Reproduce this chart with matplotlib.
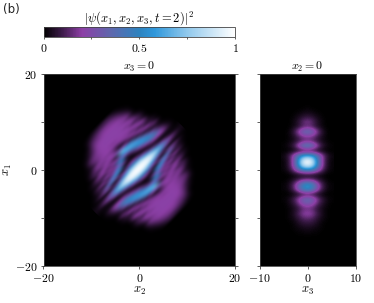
import numpy as np
import matplotlib
matplotlib.use('Agg')
import matplotlib.pyplot as plt
from matplotlib.colors import LinearSegmentedColormap
from matplotlib.ticker import FixedLocator
from matplotlib.transforms import Affine2D

plt.rcParams['mathtext.fontset'] = 'cm'
plt.rcParams['font.size'] = 8.5

# density, in percent, on a grid turned with the fringes:
# rows a = (x2+x1)/sqrt2 = 12 .. 1.5 step 1.5, columns b = (x2-x1)/sqrt2 = -12 .. 12 step .5
upper_rows = [
    [0]*22 + [1,2,3,2,1] + [0]*22,
    [0]*17 + [1,2,5,7,4,2,3,10,6,2,4,2,1] + [0]*19,
    [0]*12 + [2,6,7,15,8,6,14,22,20,7,2,8,22,12,2,15,8,9,10,4,5,3,1] + [0]*14,
    [0]*6 + [1,4,10,12,10,20,15,7,20,10,4,25,40,38,20,6,3,22,40,25,4,28,28,5,19,7,12,16,6,12,9,4,2,1] + [0]*9,
    [0] + [1,3,7,12,17,13,18,20,10,20,18,8,20,15,5,30,50,52,38,18,5,12,48,65,48,12,5,45,25,8,22,8,20,20,10,18,17,10,13,13,8,3,1] + [0]*5,
    [3,7,12,16,19,19,19,20,17,20,19,14,20,15,5,35,55,58,42,20,5,5,32,68,85,68,32,6,30,55,20,14,20,12,19,20,16,19,18,17,17,16,12,8,4,1] + [0]*3,
    [8,12,16,18,20,21,21,21,21,21,19,20,16,5,40,60,60,45,22,6,2,22,60,88,95,88,58,20,2,45,55,20,13,20,16,19,20,18,20,20,20,20,20,19,17,14,9,4,1],
    [8,12,17,19,20,21,21,21,21,20,20,16,6,20,55,65,42,15,4,1,14,42,78,94,98,94,75,42,12,1,18,55,50,15,5,18,20,18,20,20,21,21,21,20,18,16,13,9,4],
]
middle_row = [6,11,16,19,20,21,21,21,20,18,18,10,5,35,72,60,25,4,1,6,22,48,78,95,100,95,78,48,22,6,1,4,25,60,72,35,5,10,18,18,20,21,21,21,20,19,16,11,6]
# rows x1 = 14 .. -14, columns x3 = -5 .. 5
x3_x1 = [
    [0,0,0,0,0,0,0,0,0,0,0],
    [0,0,0,0,0,1,0,0,0,0,0],
    [0,0,0,1,2,3,2,1,0,0,0],
    [0,0,1,3,6,8,6,3,1,0,0],
    [0,0,2,6,14,18,14,6,2,0,0],
    [0,0,2,5,11,13,11,5,2,0,0],
    [0,1,7,20,34,40,34,20,7,1,0],
    [0,1,4,11,18,20,18,11,4,1,0],
    [0,1,3,7,12,14,12,7,3,1,0],
    [1,3,9,24,42,50,42,24,9,3,1],
    [0,0,1,2,3,3,3,2,1,0,0],
    [2,8,22,40,55,60,55,40,22,8,2],
    [1,6,22,50,88,100,88,50,22,6,1],
    [1,6,22,50,85,95,85,50,22,6,1],
    [1,4,15,30,42,48,42,30,15,4,1],
    [0,0,1,2,3,3,3,2,1,0,0],
    [0,1,4,9,14,15,14,9,4,1,0],
    [1,3,12,28,48,58,48,28,12,3,1],
    [1,3,11,27,46,55,46,27,11,3,1],
    [0,0,1,3,5,6,5,3,1,0,0],
    [1,3,9,20,33,38,33,20,9,3,1],
    [0,2,6,14,24,28,24,14,6,2,0],
    [0,1,3,7,13,15,13,7,3,1,0],
    [0,1,4,11,19,22,19,11,4,1,0],
    [0,1,3,7,12,14,12,7,3,1,0],
    [0,0,1,4,7,8,7,4,1,0,0],
    [0,0,1,2,3,4,3,2,1,0,0],
    [0,0,0,1,1,2,1,1,0,0,0],
    [0,0,0,0,0,0,0,0,0,0,0],
]
cmap_pos = [0, .1, .2, .35, .5, .58, .75, 1]
cmap_col = ['#000000', '#3f1c4c', '#8d3fa6', '#5f67ad', '#2d83bf', '#2f97db', '#90c8ec', '#ffffff']

# the lower half of the left panel is the upper half turned by 180 degrees
along_across = upper_rows + [middle_row] + [r[::-1] for r in upper_rows[::-1]]
along_across = np.pad(np.array(along_across), ((0, 0), (1, 1)))

cm = LinearSegmentedColormap.from_list('psi', list(zip(cmap_pos, cmap_col)))
W, H = 374., 303.
grey = '#444444'

def box(x0, x1, y0, y1):
    return [x0/W, 1 - y1/H, (x1 - x0)/W, (y1 - y0)/H]

fig = plt.figure(figsize=(3.74, 3.03), dpi=100)
ax1 = fig.add_axes(box(43.5, 235, 74, 266))
ax2 = fig.add_axes(box(259.7, 355.7, 74, 266))
cax = fig.add_axes(box(43.5, 235, 27.3, 37.3))

im = ax1.imshow(along_across/100., cmap=cm, vmin=0, vmax=1, interpolation='bicubic',
                extent=[-13., 12.5, -12.75, 12.75], aspect='auto')
im.set_transform(Affine2D().rotate_deg(-45) + ax1.transData)
ax2.imshow(np.array(x3_x1)/100., cmap=cm, vmin=0, vmax=1, interpolation='bicubic',
           extent=[-5.5, 5.5, -14.5, 14.5], aspect='auto')

ax1.set_xlim(-20, 20)
ax1.set_ylim(-20, 20)
ax2.set_xlim(-10, 10)
ax2.set_ylim(-20, 20)
for ax in (ax1, ax2):
    ax.set_facecolor('black')
    ax.set_yticks([-20, -10, 0, 10, 20])
    ax.tick_params(length=2.5, width=0.6, color=grey, pad=2)
    for s in ax.spines.values():
        s.set_linewidth(0.6)
        s.set_color(grey)

ax1.set_xticks([-20, 0, 20], ['$-20$', '$0$', '$20$'])
ax1.set_yticklabels(['$-20$', '', '$0$', '', '$20$'])
ax1.tick_params(right=True)
ax1.set_xlabel('$x_2$', labelpad=-1, fontsize=9)
ax1.set_ylabel('$x_1$', fontsize=9)
ax1.yaxis.set_label_coords(-0.155, 0.5)
ax1.set_title('$x_3 = 0$', fontsize=8.5, pad=2)

ax2.set_xticks([-10, 0, 10], ['$-10$', '$0$', '$10$'])
ax2.set_yticklabels([])
ax2.set_xlabel('$x_3$', labelpad=-1, fontsize=9)
ax2.set_title('$x_2 = 0$', fontsize=8.5, pad=2)

cb = fig.colorbar(im, cax=cax, orientation='horizontal')
cb.set_ticks([0, 0.5, 1], labels=['$0$', '$0.5$', '$1$'])
cb.ax.xaxis.set_minor_locator(FixedLocator([0.25, 0.75]))
cax.tick_params(which='both', length=1.5, width=0.6, color=grey, pad=2)
cb.outline.set_linewidth(0.6)
cb.outline.set_edgecolor(grey)
cax.set_title(r'$|\psi(x_1, x_2, x_3, t=2)|^2$', fontsize=9, pad=3)

fig.text(3/W, 1 - 13/H, '(b)', fontsize=8.5, color='#222222')
fig.savefig('out.png', dpi=100)
